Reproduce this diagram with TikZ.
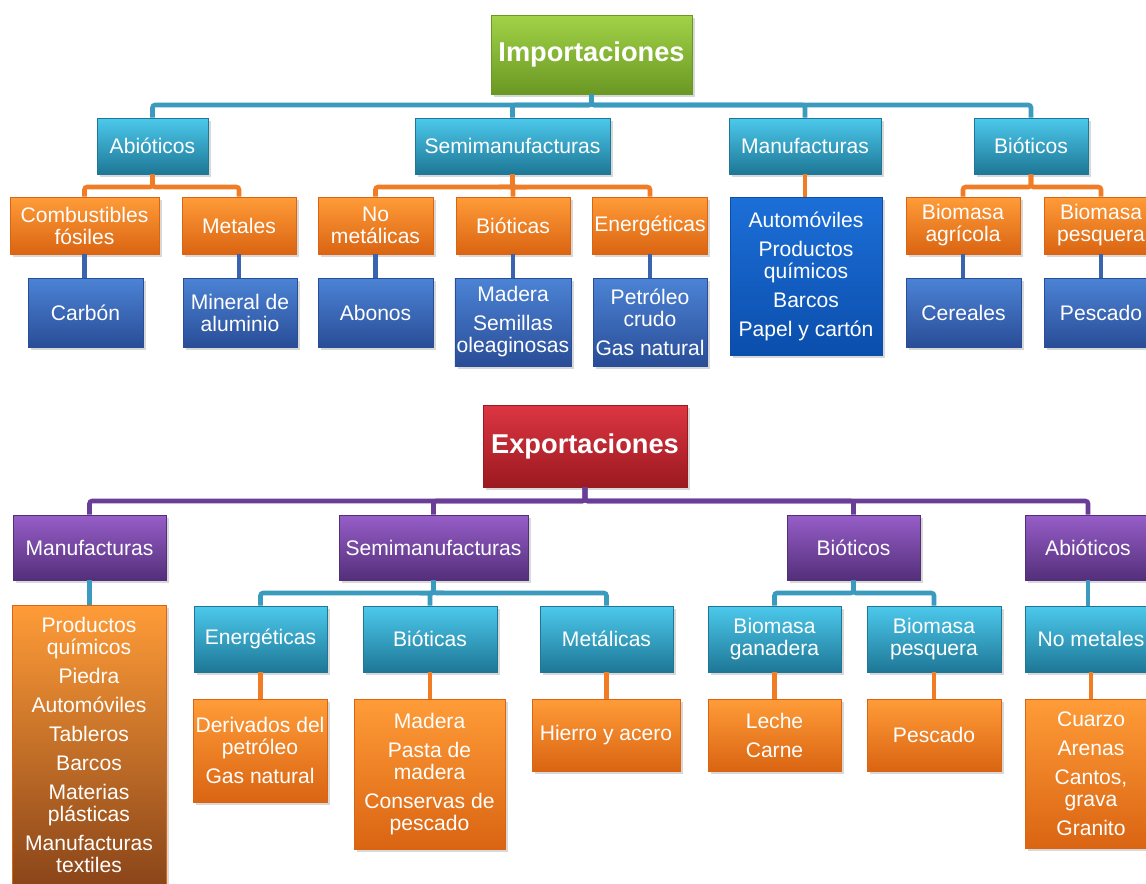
\documentclass[tikz,border=0pt]{standalone}
\usepackage{fontspec}
\setmainfont{Liberation Sans}
\usetikzlibrary{shadows}

\definecolor{greenTop}{HTML}{A2D247}
\definecolor{greenBot}{HTML}{6A9824}
\definecolor{redTop}{HTML}{DC3642}
\definecolor{redBot}{HTML}{9C1920}
\definecolor{tealTop}{HTML}{4CC9EC}
\definecolor{tealBot}{HTML}{1E7796}
\definecolor{orangeTop}{HTML}{FF9C38}
\definecolor{orangeBot}{HTML}{DA6412}
\definecolor{brownBot}{HTML}{8A4519}
\definecolor{navyTop}{HTML}{4C83D5}
\definecolor{navyBot}{HTML}{294D97}
\definecolor{blueTop}{HTML}{1C6FD8}
\definecolor{blueBot}{HTML}{0B4EAC}
\definecolor{purpleTop}{HTML}{975EC8}
\definecolor{purpleBot}{HTML}{532F7A}
\definecolor{tealLine}{HTML}{3A9BBE}
\definecolor{orangeLine}{HTML}{F07D26}
\definecolor{navyLine}{HTML}{3A64AE}
\definecolor{purpleLine}{HTML}{6A3E98}

\tikzset{
  base/.style={rectangle, inner sep=1pt, align=center, text=white,
    font=\fontsize{12}{12.5}\selectfont, line width=0.5pt,
    drop shadow={opacity=0.3, shadow xshift=1.5pt, shadow yshift=-1.5pt}},
  boxsize/.style 2 args={minimum width=#1*0.02cm, minimum height=#2*0.02cm},
  rootbox/.style={base, font=\fontsize{15.5}{18}\selectfont\bfseries},
  greenbox/.style={rootbox, top color=greenTop, bottom color=greenBot, draw=greenBot},
  redbox/.style={rootbox, top color=redTop, bottom color=redBot, draw=redBot},
  tealbox/.style={base, top color=tealTop, bottom color=tealBot, draw=tealBot},
  orangebox/.style={base, top color=orangeTop, bottom color=orangeBot, draw=orangeBot},
  navybox/.style={base, top color=navyTop, bottom color=navyBot, draw=navyBot},
  bluebox/.style={base, top color=blueTop, bottom color=blueBot, draw=blueBot},
  purplebox/.style={base, top color=purpleTop, bottom color=purpleBot, draw=purpleBot},
  link/.style={line width=2.6pt, rounded corners=1.5pt},
}

\begin{document}
\begin{tikzpicture}[x=0.02cm, y=-0.02cm]
  \useasboundingbox (0,0) rectangle (1146,883);
  \fill[white] (0,0) rectangle (1146,883);
  \clip (0,0) rectangle (1146,883);

  % bus heights
  \coordinate (ibus) at (0,105);
  \coordinate (isub) at (0,187);
  \coordinate (ebus) at (0,501);
  \coordinate (esub) at (0,593);

  % ---- importaciones ----
  \node[greenbox, boxsize={201}{79}] (imp) at (591.5,54.5) {Importaciones};

  \node[tealbox, boxsize={111}{56}] (i1abio) at (152.5,146) {Abióticos};
  \node[tealbox, boxsize={195}{56}] (i1semi) at (512.5,146) {Semimanufacturas};
  \node[tealbox, boxsize={152}{56}] (i1manu) at (805,146) {Manufacturas};
  \node[tealbox, boxsize={114}{56}] (i1bio) at (1031,146) {Bióticos};

  \node[orangebox, boxsize={149}{57}] (i2comb) at (84.5,225.5) {Combustibles\\fósiles};
  \node[orangebox, boxsize={114}{57}] (i2meta) at (239,225.5) {Metales};
  \node[orangebox, boxsize={115}{57}] (i2nomet) at (375.5,225.5) {No\\metálicas};
  \node[orangebox, boxsize={114}{57}] (i2biot) at (513,225.5) {Bióticas};
  \node[orangebox, boxsize={114}{57}] (i2ener) at (650,225.5) {Energéticas};
  \node[orangebox, boxsize={114}{57}] (i2agri) at (963,225.5) {Biomasa\\agrícola};
  \node[orangebox, boxsize={114}{57}] (i2pesq) at (1101,225.5) {Biomasa\\pesquera};
  \node[bluebox, boxsize={152}{158}] (i2manuf) at (806,276)
    {Automóviles\\[4pt]Productos\\químicos\\[4pt]Barcos\\[4pt]Papel y cartón};

  \node[navybox, boxsize={115}{69}] (i3carb) at (85.5,312.5) {Carbón};
  \node[navybox, boxsize={114}{69}] (i3mine) at (240,312.5) {Mineral de\\aluminio};
  \node[navybox, boxsize={115}{69}] (i3abon) at (375.5,312.5) {Abonos};
  \node[navybox, boxsize={114}{88}] (i3made) at (513,322) {Madera\\[4pt]Semillas\\oleaginosas};
  \node[navybox, boxsize={114}{88}] (i3petr) at (650,322) {Petróleo\\crudo\\[4pt]Gas natural};
  \node[navybox, boxsize={115}{69}] (i3cere) at (963.5,312.5) {Cereales};
  \node[navybox, boxsize={114}{69}] (i3pesc) at (1101,312.5) {Pescado};

  \foreach \c in {i1abio,i1semi,i1manu,i1bio}
    \draw[link, tealLine] (imp.south) |- (\c.north |- ibus) -- (\c.north);
  \foreach \p/\c in {i1abio/i2comb,i1abio/i2meta,i1semi/i2nomet,i1semi/i2biot,
                     i1semi/i2ener,i1bio/i2agri,i1bio/i2pesq}
    \draw[link, orangeLine] (\p.south) |- (\c.north |- isub) -- (\c.north);
  \draw[link, orangeLine] (i1manu.south) -- (i1manu.south |- i2manuf.north);
  \foreach \p/\c in {i2comb/i3carb,i2meta/i3mine,i2nomet/i3abon,i2biot/i3made,
                     i2ener/i3petr,i2agri/i3cere,i2pesq/i3pesc}
    \draw[link, navyLine] (\p.south) -- (\p.south |- \c.north);

  % ---- exportaciones ----
  \node[redbox, boxsize={204}{82}] (exp) at (585,446) {Exportaciones};

  \node[purplebox, boxsize={153}{65}] (e1manu) at (89.5,547.5) {Manufacturas};
  \node[purplebox, boxsize={189}{65}] (e1semi) at (433.5,547.5) {Semimanufacturas};
  \node[purplebox, boxsize={133}{65}] (e1bio) at (853.5,547.5) {Bióticos};
  \node[purplebox, boxsize={126}{65}] (e1abio) at (1088,547.5) {Abióticos};

  \node[orangebox, bottom color=brownBot, boxsize={154}{280}] (e2list) at (89,745)
    {Productos\\químicos\\[4pt]Piedra\\[4pt]Automóviles\\[4pt]Tableros\\[4pt]Barcos\\[4pt]%
     Materias\\plásticas\\[4pt]Manufacturas\\textiles};
  \node[tealbox, boxsize={133}{66}] (e2ener) at (260.5,639) {Energéticas};
  \node[tealbox, boxsize={134}{66}] (e2biot) at (430,639) {Bióticas};
  \node[tealbox, boxsize={133}{66}] (e2meta) at (606.5,639) {Metálicas};
  \node[tealbox, boxsize={133}{66}] (e2gana) at (774.5,639) {Biomasa\\ganadera};
  \node[tealbox, boxsize={134}{66}] (e2pesq) at (934,639) {Biomasa\\pesquera};
  \node[tealbox, boxsize={132}{66}] (e2nomet) at (1091,639) {No metales};

  \node[orangebox, boxsize={134}{103}] (e3deri) at (260,750.5) {Derivados del\\petróleo\\[4pt]Gas natural};
  \node[orangebox, boxsize={151}{150}] (e3made) at (429.5,774)
    {Madera\\[4pt]Pasta de\\madera\\[4pt]Conservas de\\pescado};
  \node[orangebox, boxsize={148}{72}] (e3hier) at (606,735) {Hierro y acero};
  \node[orangebox, boxsize={133}{72}] (e3lech) at (774.5,735) {Leche\\[4pt]Carne};
  \node[orangebox, boxsize={134}{72}] (e3pesc) at (934,735) {Pescado};
  \node[orangebox, boxsize={132}{149}] (e3cuar) at (1091,773.5)
    {Cuarzo\\[4pt]Arenas\\[4pt]Cantos,\\grava\\[4pt]Granito};

  \foreach \c in {e1manu,e1semi,e1bio,e1abio}
    \draw[link, purpleLine] (exp.south) |- (\c.north |- ebus) -- (\c.north);
  \foreach \p/\c in {e1semi/e2ener,e1semi/e2biot,e1semi/e2meta,e1bio/e2gana,e1bio/e2pesq}
    \draw[link, tealLine] (\p.south) |- (\c.north |- esub) -- (\c.north);
  \draw[link, tealLine] (e1manu.south) -- (e1manu.south |- e2list.north);
  \draw[link, tealLine] (e1abio.south) -- (e1abio.south |- e2nomet.north);
  \foreach \p/\c in {e2ener/e3deri,e2biot/e3made,e2meta/e3hier,e2gana/e3lech,
                     e2pesq/e3pesc,e2nomet/e3cuar}
    \draw[link, orangeLine] (\p.south) -- (\p.south |- \c.north);
\end{tikzpicture}
\end{document}
